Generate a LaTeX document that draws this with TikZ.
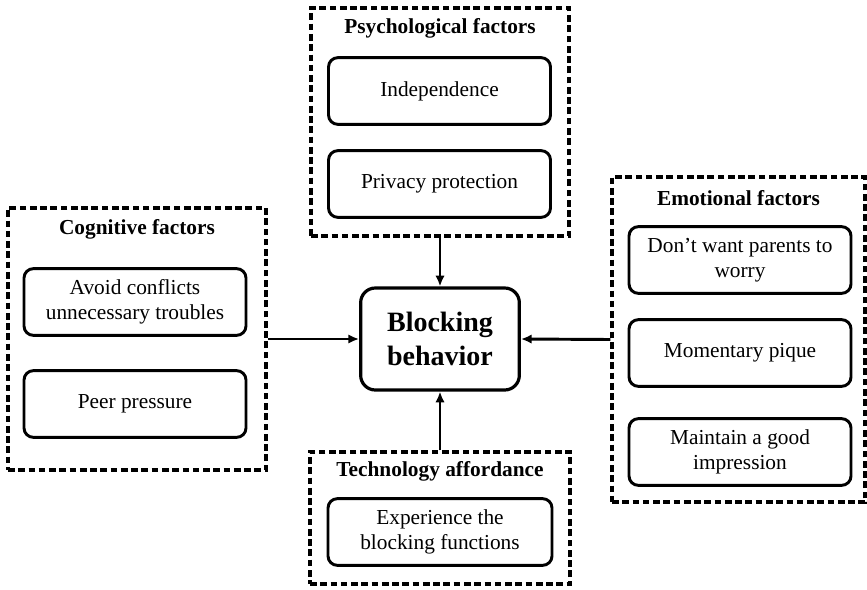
\documentclass[tikz,border=0pt]{standalone}
\usepackage{fontspec}
\setmainfont{Liberation Serif}
\usetikzlibrary{positioning,arrows.meta}

\begin{document}
\begin{tikzpicture}
   [x=0.75pt,y=-0.75pt,
    group/.style={draw,line width=2.4pt,dash pattern=on 5pt off 2.7pt},
    head/.style={font=\fontsize{16}{19}\selectfont\bfseries},
    item/.style={draw,line width=2.2pt,rounded corners=7pt,minimum width=166.5pt,
      minimum height=50pt,align=center,font=\fontsize{16}{19}\selectfont},
    core/.style={draw,line width=2.4pt,rounded corners=11pt,minimum width=119pt,
      minimum height=76.5pt,align=center,font=\fontsize{21}{25}\selectfont\bfseries},
    link/.style={-{Latex[length=8pt,width=7pt]},line width=2.2pt}]

\useasboundingbox (0,0) rectangle (867,589);

\node [core] (block) at (440,339) {Blocking\\behavior};

\node [group,minimum width=193.5pt,minimum height=171pt] (psy) at (440,122) {};
\node [head] (psyhead) at (440,28) {Psychological factors};
\node [item] (indep) at (439.5,91) {Independence};
\node [item] (privacy) at (439.5,184) {Privacy protection};

\node [group,minimum width=193.5pt,minimum height=196.5pt] (cog) at (137,339) {};
\node [head] (coghead) at (137,229) {Cognitive factors};
\node [item] (avoid) at (135,302) {Avoid conflicts\\unnecessary troubles};
\node [item] (peer) at (135,404) {Peer pressure};

\node [group,minimum width=189.75pt,minimum height=243.75pt] (emo) at (738.5,339.5) {};
\node [head] (emohead) at (738.5,198) {Emotional factors};
\node [item] (worry) at (740,260) {Don’t want parents to\\worry};
\node [item] (pique) at (740,353) {Momentary pique};
\node [item] (impress) at (740,452) {Maintain a good\\impression};

\node [group,minimum width=195pt,minimum height=99pt] (tech) at (440,518) {};
\node [head] (techhead) at (440,471) {Technology affordance};
\node [item,minimum width=168pt] (exper) at (440,532) {Experience the\\blocking functions};

\draw [link] (psy.south) -- (block.north);
\draw [link] (cog.east) -- (block.west);
\draw [link] (emo.west) -- (block.east);
\draw [link] (tech.north) -- (block.south);
\end{tikzpicture}
\end{document}
